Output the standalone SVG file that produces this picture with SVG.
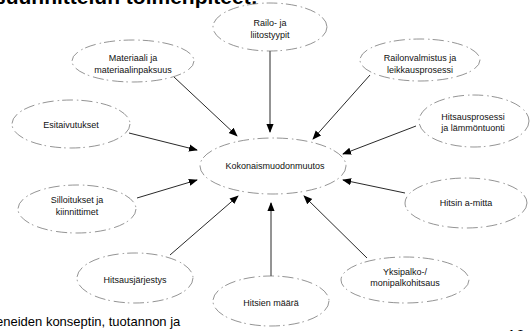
<svg xmlns="http://www.w3.org/2000/svg" width="531" height="331" viewBox="0 0 531 331">
<style>
.n ellipse{fill:#fff;stroke:#666;stroke-width:0.7;stroke-dasharray:11 4 1.5 3}
.n text{font-family:"Liberation Sans",Arial,sans-serif;font-size:9px;fill:#111;text-anchor:middle}
.c line{stroke:#111;stroke-width:0.9}
.big{font-family:"Liberation Sans",Arial,sans-serif;fill:#000}
</style>
<defs>
<marker id="ah" viewBox="0 0 10 10" refX="9" refY="5" markerWidth="9" markerHeight="9" markerUnits="userSpaceOnUse" orient="auto">
<path d="M0,1 L10,5 L0,9 z" fill="#000"/>
</marker>
</defs>
<rect width="531" height="331" fill="#fff"/>
<text class="big" x="-6" y="4" font-size="21" font-weight="bold">suunnittelun toimenpiteet:</text>
<text class="big" x="-4" y="326" font-size="13">eneiden konseptin, tuotannon ja</text>
<text class="big" x="507" y="342" font-size="16">10</text>
<g class="c">
<line x1="270" y1="51" x2="270" y2="132" stroke-width="1.5" marker-end="url(#ah)"/>
<line x1="174" y1="77" x2="237" y2="136" marker-end="url(#ah)"/>
<line x1="370" y1="75" x2="313" y2="139" marker-end="url(#ah)"/>
<line x1="129" y1="133" x2="197" y2="150" marker-end="url(#ah)"/>
<line x1="416" y1="126" x2="343" y2="154" marker-end="url(#ah)"/>
<line x1="137" y1="198" x2="197" y2="180" marker-end="url(#ah)"/>
<line x1="405" y1="193" x2="343" y2="180" marker-end="url(#ah)"/>
<line x1="170" y1="255" x2="238" y2="196" marker-end="url(#ah)"/>
<line x1="271" y1="276" x2="271" y2="203" stroke-width="1.5" marker-end="url(#ah)"/>
<line x1="367" y1="258" x2="304" y2="196" marker-end="url(#ah)"/>
</g>
<g id="kokonais" class="n"><ellipse cx="273" cy="166" rx="73" ry="28"/><text x="275" y="169">Kokonaismuodonmuutos</text></g>
<g id="railo" class="n"><ellipse cx="270" cy="27" rx="57" ry="24"/><text x="270" y="26">Railo- ja</text><text x="270" y="38">liitostyypit</text></g>
<g id="materiaali" class="n"><ellipse cx="133" cy="61" rx="61" ry="21"/><text x="133" y="61">Materiaali ja</text><text x="133" y="73">materiaalinpaksuus</text></g>
<g id="railonvalmistus" class="n"><ellipse cx="420" cy="60" rx="60" ry="21"/><text x="420" y="61">Railonvalmistus ja</text><text x="420" y="73">leikkausprosessi</text></g>
<g id="esitaivutukset" class="n"><ellipse cx="71" cy="124" rx="59" ry="24"/><text x="71" y="128">Esitaivutukset</text></g>
<g id="hitsausprosessi" class="n"><ellipse cx="474" cy="121" rx="55" ry="26"/><text x="473" y="120">Hitsausprosessi</text><text x="473" y="131">ja lämmöntuonti</text></g>
<g id="silloitukset" class="n"><ellipse cx="77" cy="209" rx="59" ry="24"/><text x="77" y="203">Silloitukset ja</text><text x="77" y="215">kiinnittimet</text></g>
<g id="amitta" class="n"><ellipse cx="466" cy="203" rx="61" ry="25"/><text x="466" y="206">Hitsin a-mitta</text></g>
<g id="jarjestys" class="n"><ellipse cx="135" cy="278" rx="58" ry="25"/><text x="135" y="283">Hitsausjärjestys</text></g>
<g id="yksipalko" class="n"><ellipse cx="405" cy="280" rx="64" ry="23"/><text x="405" y="275">Yksipalko-/</text><text x="405" y="286">monipalkohitsaus</text></g>
<g id="maara" class="n"><ellipse cx="271" cy="301" rx="58" ry="25"/><text x="271" y="306">Hitsien määrä</text></g>
</svg>
